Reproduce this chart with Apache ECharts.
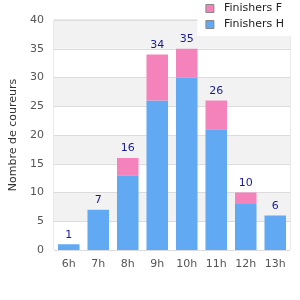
<!DOCTYPE html>
<html>
<head>
<meta charset="utf-8">
<script src="https://cdn.jsdelivr.net/npm/echarts@6/dist/echarts.min.js"></script>
<style>
  html, body { margin: 0; padding: 0; background: #fff; }
  #chart { width: 300px; height: 300px; }
</style>
</head>
<body>
<div id="chart"></div>
<script>
const hours = ['6h', '7h', '8h', '9h', '10h', '11h', '12h', '13h']
const finishersH = [1, 7, 13, 26, 30, 21, 8, 6]
const finishersF = [0, 0, 3, 8, 5, 5, 2, 0]
const totals = finishersH.map((v, i) => v + finishersF[i])

const chart = echarts.init(document.getElementById('chart'))
chart.setOption({
  animation: false,
  textStyle: { fontFamily: 'DejaVu Sans' },
  grid: {
    left: 50,
    right: 10,
    top: 20,
    bottom: 50,
    show: true,
    borderColor: '#d4d4d4',
    borderWidth: 1
  },
  legend: {
    orient: 'vertical',
    top: 0,
    right: 0,
    backgroundColor: '#fff',
    padding: [3, 16, 6, 8],
    itemGap: 5,
    itemWidth: 8,
    itemHeight: 8,
    icon: 'rect',
    data: ['Finishers F', 'Finishers H'],
    itemStyle: { borderColor: '#888', borderWidth: 1 },
    textStyle: { color: '#222', fontSize: 11, padding: [0, 0, 0, 5] }
  },
  xAxis: {
    type: 'category',
    data: hours,
    axisLine: { show: false },
    axisTick: { show: false },
    axisLabel: { color: '#555', fontSize: 11, margin: 9 }
  },
  yAxis: {
    type: 'value',
    min: 0,
    max: 40,
    interval: 5,
    name: 'Nombre de coureurs',
    nameLocation: 'middle',
    nameGap: 35,
    nameTextStyle: { color: '#333', fontSize: 11 },
    axisLine: { show: false },
    axisTick: { show: false },
    axisLabel: { color: '#555', fontSize: 11, margin: 10 },
    splitLine: { lineStyle: { color: '#dcdcdc' } },
    splitArea: { show: true, areaStyle: { color: ['#fff', '#f2f2f2'] } }
  },
  series: [
    {
      name: 'Finishers H',
      type: 'bar',
      stack: 'total',
      barWidth: '73%',
      itemStyle: { color: '#62a9f4', borderWidth: 0 },
      data: finishersH
    },
    {
      name: 'Finishers F',
      type: 'bar',
      stack: 'total',
      itemStyle: { color: '#f383ba', borderWidth: 0 },
      data: finishersF,
      label: {
        show: true,
        position: 'top',
        distance: 4,
        color: '#1a1a99',
        fontSize: 11,
        formatter: p => totals[p.dataIndex]
      }
    }
  ]
})
</script>
</body>
</html>
